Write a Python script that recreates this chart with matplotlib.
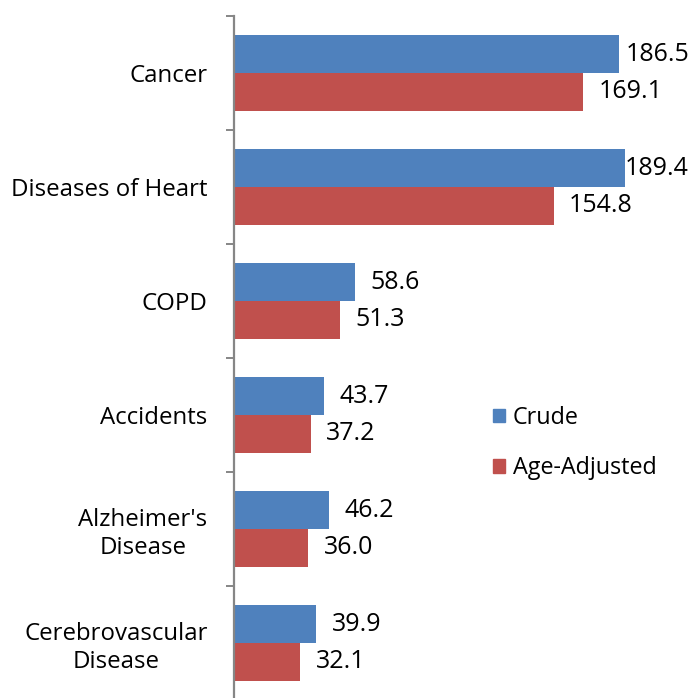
import numpy as np
import matplotlib
matplotlib.use("Agg")
import matplotlib.pyplot as plt
from matplotlib.patches import Patch

categories = ["Cancer", "Diseases of Heart", "COPD", "Accidents",
              "Alzheimer's\nDisease", "Cerebrovascular\nDisease"]
crude = [186.5, 189.4, 58.6, 43.7, 46.2, 39.9]
age_adjusted = [169.1, 154.8, 51.3, 37.2, 36.0, 32.1]
series_names = ["Crude", "Age-Adjusted"]

BLUE = "#4F81BD"
RED = "#C0504D"
GRAY = "#868686"

plt.rcParams["font.family"] = ["Open Sans", "DejaVu Sans"]


def main():
    W, H = 693, 698
    fig = plt.figure(figsize=(W / 100, H / 100), dpi=100)
    left, right, top, bottom = 234, 693, 16, 700
    ax = fig.add_axes([left / W, (H - bottom) / H, (right - left) / W, (bottom - top) / H])

    y = np.arange(len(categories))
    h = 0.33
    ax.barh(y - h / 2, crude, height=h, color=BLUE, label=series_names[0])
    ax.barh(y + h / 2, age_adjusted, height=h, color=RED, label=series_names[1])

    xmax = (right - left) / 2.065
    ax.set_xlim(0, xmax)
    ax.set_ylim(len(categories) - 0.5, -0.5)

    for s in ["top", "right", "bottom"]:
        ax.spines[s].set_visible(False)
    ax.spines["left"].set_color(GRAY)
    ax.spines["left"].set_linewidth(1.6)
    ax.set_xticks([])
    ax.set_yticks(y)
    ax.set_yticklabels(categories, fontsize=17.3, ha="right", multialignment="center")
    ax.set_yticks(np.arange(len(categories) + 1) - 0.5, minor=True)
    ax.tick_params(axis="y", which="major", length=0, pad=19)
    ax.tick_params(axis="y", which="minor", length=6, width=1.4, color=GRAY, direction="out")

    # value labels, pulled back inside the plot if they run past the edge
    fig.canvas.draw()
    renderer = fig.canvas.get_renderer()
    limit_px = 689
    texts = []
    for vals, off in [(crude, -h / 2), (age_adjusted, h / 2)]:
        for i, v in enumerate(vals):
            t = ax.annotate(f"{v:.1f}", (v, i + off), xytext=(11, 0), textcoords="offset points",
                            ha="left", va="center", fontsize=18)
            texts.append(t)
    for t in texts:
        bb = t.get_window_extent(renderer)
        if bb.x1 > limit_px:
            t.set_position((-(bb.x1 - limit_px) * 72 / 100 + 11, 0))

    handles = [Patch(color=BLUE), Patch(color=RED)]
    fig.legend(handles, series_names, loc="center left", bbox_to_anchor=(472 / W, 1 - 443 / H),
               frameon=False, fontsize=16.8, handlelength=0.5, handleheight=0.5,
               handletextpad=0.35, labelspacing=1.15)

    fig.savefig("out.png", dpi=100)


if __name__ == "__main__":
    main()
